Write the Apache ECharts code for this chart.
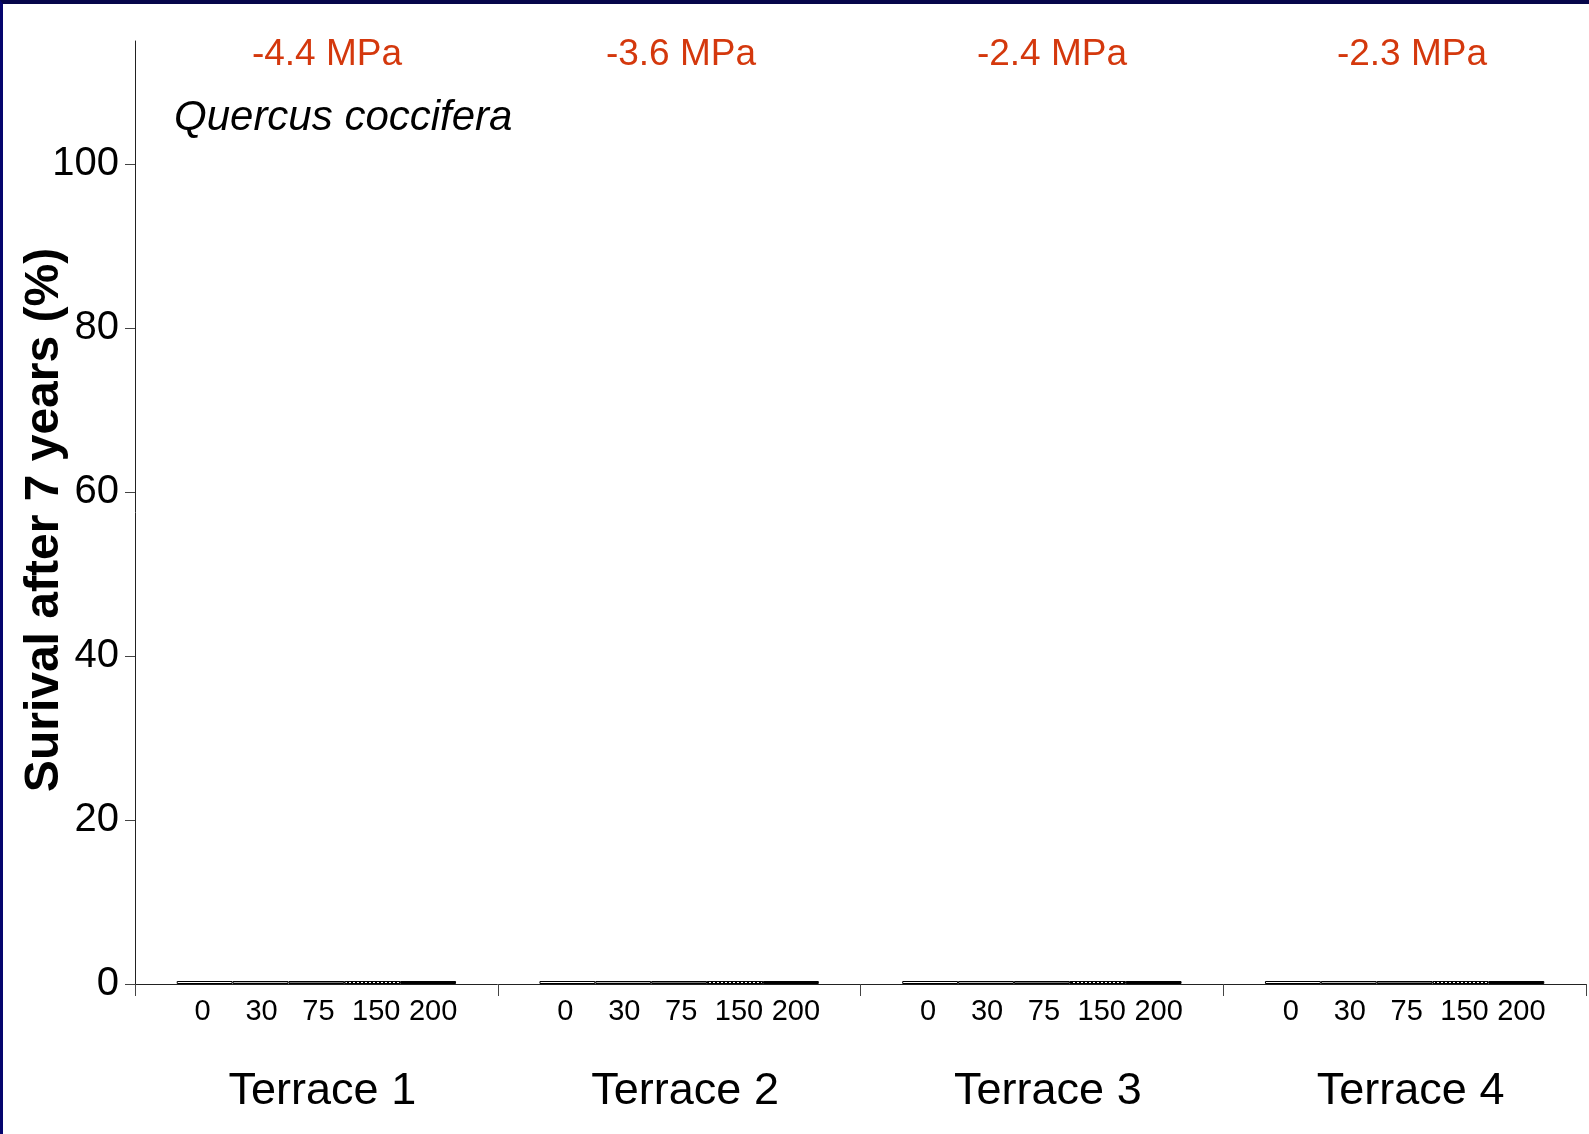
<!DOCTYPE html>
<html>
<head>
<meta charset="utf-8">
<script src="https://cdn.jsdelivr.net/npm/echarts@6/dist/echarts.min.js"></script>
<style>
  html, body { margin: 0; padding: 0; background: #fff; }
  #chart { width: 1589px; height: 1134px; box-sizing: border-box; border-top: 4px solid #06064a; border-left: 3px solid #05056e; background: #fff; }
</style>
</head>
<body>
<div id="chart"></div>
<script>
const terraces = ['Terrace 1', 'Terrace 2', 'Terrace 3', 'Terrace 4'];
const doses = ['0', '30', '75', '150', '200'];
const waterPotential = ['-4.4 MPa', '-3.6 MPa', '-2.4 MPa', '-2.3 MPa'];
const yTicks = [0, 20, 40, 60, 80, 100];
const survivalDose0 = [0, 0, 0, 0];
const survivalDose30 = [0, 0, 0, 0];
const survivalDose75 = [0, 0, 0, 0];
const survivalDose150 = [0, 0, 0, 0];
const survivalDose200 = [0, 0, 0, 0];
const speciesName = 'Quercus coccifera';
const yAxisTitle = 'Surival after 7 years (%)';

const seriesValues = [survivalDose0, survivalDose30, survivalDose75, survivalDose150, survivalDose200];
const fills = ['#ffffff', '#c0c0c0', '#7a7a7a', '#ffffff', '#000000'];
const labelShift = [-2, 1, 2, 4, 5];

const FONT = '"Liberation Sans", Arial, sans-serif';
const chart = echarts.init(document.getElementById('chart'), null, { renderer: 'canvas' });

const series = seriesValues.map((vals, i) => ({
  type: 'bar',
  name: doses[i],
  data: vals,
  barGap: '0%',
  barCategoryGap: '23%',
  barMinHeight: 3,
  itemStyle: Object.assign({
    color: fills[i],
    borderColor: '#000',
    borderWidth: 1
  }, i === 3 ? { decal: { symbol: 'rect', symbolSize: 1, color: '#000', dashArrayX: [[2, 2]], dashArrayY: [1, 1] } } : {}),
  label: {
    show: true,
    formatter: doses[i],
    position: ['50%', 31],
    offset: [labelShift[i], 0],
    align: 'center',
    verticalAlign: 'middle',
    fontFamily: FONT,
    fontSize: 29,
    color: '#000'
  },
  emphasis: { disabled: true },
  animation: false
}));

const wpCenters = [324, 678, 1049, 1409];

chart.setOption({
  animation: false,
  backgroundColor: '#fff',
  grid: { left: 132, top: 37, width: 1451, height: 943, containLabel: false },
  xAxis: {
    type: 'category',
    data: terraces,
    boundaryGap: true,
    axisLine: { lineStyle: { color: '#222', width: 1 } },
    axisTick: { show: true, interval: 0, length: 12, inside: false, lineStyle: { color: '#444', width: 1 } },
    axisLabel: { margin: 85, fontFamily: FONT, fontSize: 45, lineHeight: 45, color: '#000', padding: [0, 0, 0, 12] },
    splitLine: { show: false }
  },
  yAxis: {
    type: 'value',
    min: 0,
    max: 115,
    interval: 20,
    axisLine: { show: true, lineStyle: { color: '#222', width: 1 } },
    axisTick: { show: true, length: 10, inside: false, customValues: yTicks, lineStyle: { color: '#444', width: 1 } },
    axisLabel: { margin: 16, fontFamily: FONT, fontSize: 40, color: '#000', customValues: yTicks, padding: [6, 0, 0, 0] },
    splitLine: { show: false }
  },
  graphic: [
    {
      type: 'text',
      x: 42, y: 516,
      rotation: Math.PI / 2,
      style: { text: yAxisTitle, font: 'bold 48px ' + FONT, fill: '#000', align: 'center', verticalAlign: 'middle' }
    },
    {
      type: 'text',
      x: 171, y: 114,
      style: { text: speciesName, font: 'italic 42px ' + FONT, fill: '#000', align: 'left', verticalAlign: 'middle' }
    }
  ].concat(waterPotential.map((t, i) => ({
    type: 'text',
    x: wpCenters[i], y: 51,
    style: { text: t, font: '37px ' + FONT, fill: '#d4380d', align: 'center', verticalAlign: 'middle' }
  }))),
  series: series
});
</script>
</body>
</html>
